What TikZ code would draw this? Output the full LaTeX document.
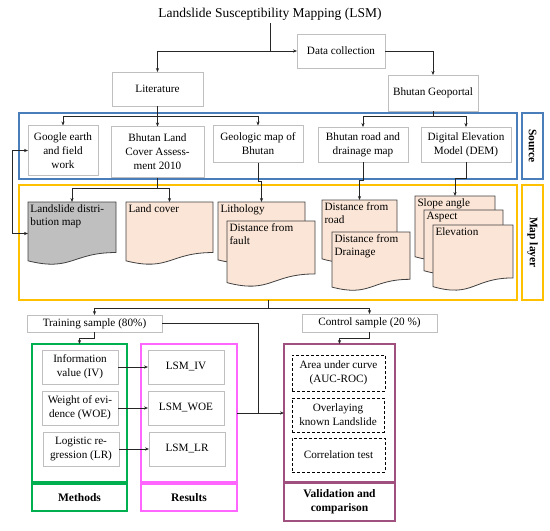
\documentclass[tikz,border=0pt]{standalone}
\usepackage{fontspec}
\setmainfont{Liberation Serif}
\usetikzlibrary{arrows.meta,calc}
\definecolor{blueC}{HTML}{4A7EBB}
\definecolor{yelC}{HTML}{FFC000}
\definecolor{greenC}{HTML}{00B050}
\definecolor{magC}{HTML}{FF66FF}
\definecolor{purC}{HTML}{A0507F}
\definecolor{peach}{HTML}{FBE5D6}
\definecolor{docgray}{HTML}{BFBFBF}
\definecolor{boxgray}{HTML}{BFBFBF}
\definecolor{lineC}{HTML}{262626}
\tikzset{
 base/.style={font=\fontsize{11.2}{14}\selectfont, inner sep=0pt, outer sep=0pt, align=center},
 gbox/.style={base, draw=boxgray, line width=0.8pt, fill=white},
 sz/.style 2 args={minimum width=#1pt, minimum height=#2pt},
 cframe/.style={draw=#1, line width=1.5pt, inner sep=0pt, outer sep=0pt},
 dbox/.style={base, draw=black, dash pattern=on 3pt off 2pt, line width=0.8pt},
 conn/.style={draw=lineC, line width=0.8pt},
 arr/.style={conn, -{Stealth[length=4pt,width=3.2pt]}},
 biarr/.style={conn, {Stealth[length=4pt,width=3.2pt]}-{Stealth[length=4pt,width=3.2pt]}},
 docframe/.style={inner sep=0pt, outer sep=0pt},
 docline/.style={draw=black!75, line width=0.8pt},
 doctext/.style={base, font=\fontsize{11.2}{13.5}\selectfont, align=left, inner sep=2.5pt},
 lbl/.style={base, font=\fontsize{11.5}{14}\selectfont\bfseries},
}
\newcommand\docu[7]{%
 \node[docframe, sz={#4}{#5}, anchor=north west] (#1) at (#2,#3) {};
 \draw[docline, fill=#6] (#1.north west) -- (#1.north east) -- ($(#1.north east)!0.802!(#1.south east)$) .. controls ($(#1.north)!0.802!(#1.south)$) and ($(#1.north)!1.107!(#1.south)$) .. ($(#1.north west)!0.934!(#1.south west)$) -- cycle;
 \node[doctext, anchor=north west] (#1t) at (#1.north west) {#7};
}
\begin{document}
\begin{tikzpicture}[x=1pt,y=-1pt]
\useasboundingbox (0,0) rectangle (550,531);
% title and top
\node[base, font=\fontsize{13.5}{16}\selectfont, inner sep=3pt] (title) at (270,14) {Landslide Susceptibility Mapping (LSM)};
\node[gbox, sz={88}{34}] (data) at (341,51) {Data collection};
\node[gbox, sz={91}{34}] (lit) at (157.5,89) {Literature};
\node[gbox, sz={90}{36}] (geo) at (433,93) {Bhutan Geoportal};
% frames
\node[cframe=blueC, sz={498}{66}] (srcbox) at (268,146) {};
\node[cframe=blueC, lbl, rotate=-90, sz={66}{21}] (srclbl) at (532.5,146) {Source};
\node[cframe=yelC, sz={498}{115}] (mapbox) at (268,242.5) {};
\node[cframe=yelC, lbl, rotate=-90, sz={115}{21}] (maplbl) at (532.5,242.5) {Map layer};
% source nodes
\node[gbox, sz={70}{50}] (google) at (63,150.5) {Google earth\\and field\\work};
\node[gbox, sz={93}{51}] (lcsrc) at (157.5,152) {Bhutan Land\\Cover Assess-\\ment 2010};
\node[gbox, sz={90}{37}] (geomap) at (258,144) {Geologic map of\\Bhutan};
\node[gbox, sz={90}{35}] (road) at (363,144.5) {Bhutan road and\\drainage map};
\node[gbox, sz={90}{35}] (dem) at (466,144.5) {Digital Elevation\\Model (DEM)};
% map layer documents
\docu{lsm}{28}{202}{88}{63}{docgray}{Landslide distri-\\bution map}
\docu{lcdoc}{126}{202}{87}{63}{peach}{Land cover}
\docu{litho}{218}{202}{87}{62}{peach}{Lithology}
\docu{fault}{227}{221}{88}{66}{peach}{Distance from\\fault}
\docu{roaddoc}{322}{200}{75}{63}{peach}{Distance from\\road}
\docu{drain}{332}{232}{78}{59}{peach}{Distance from\\Drainage}
\docu{slope}{415}{196}{80}{65}{peach}{Slope angle}
\docu{aspect}{424}{210}{79}{65}{peach}{Aspect}
\docu{elev}{433}{225}{80}{66}{peach}{Elevation}
% samples
\node[gbox, sz={135}{17}] (train) at (94.5,323.5) {Training sample (80\%)};
\node[gbox, sz={135}{18}] (control) at (369.5,323) {Control sample (20 \%)};
% method / result / validation frames
\node[cframe=greenC, sz={95}{138}] (methods) at (79.5,413) {};
\node[cframe=greenC, lbl, sz={95}{27}] (methlbl) at (79.5,497.5) {Methods};
\node[cframe=magC, sz={96}{138}] (results) at (189,413) {};
\node[cframe=magC, lbl, sz={96}{27}] (reslbl) at (189,497.5) {Results};
\node[cframe=purC, sz={111}{138}] (valid) at (339.5,413) {};
\node[cframe=purC, lbl, sz={111}{38}] (vallbl) at (339.5,502) {Validation and\\comparison};
\node[gbox, sz={76}{34}] (iv) at (80,367) {Information\\value (IV)};
\node[gbox, sz={76}{34}] (woe) at (80,408) {Weight of evi-\\dence (WOE)};
\node[gbox, sz={76}{34}] (lr) at (81,449) {Logistic re-\\gression (LR)};
\node[gbox, sz={76}{34}] (lsmiv) at (186,367) {LSM\_IV};
\node[gbox, sz={76}{34}] (lsmwoe) at (186,408) {LSM\_WOE};
\node[gbox, sz={76}{34}] (lsmlr) at (187,449) {LSM\_LR};
\node[dbox, sz={93}{36}] (auc) at (338.5,373) {Area under curve\\(AUC-ROC)};
\node[dbox, sz={92}{34}] (overlay) at (338,415) {Overlaying\\known Landslide};
\node[dbox, sz={93}{34}] (corr) at (338.5,455) {Correlation test};
% connectors
\coordinate (j1) at (title.south |- data.west);
\draw[conn] (title.south) -- (j1);
\draw[arr] (j1) -- (data.west);
\draw[arr] (j1) -| (lit.north);
\draw[arr] (data.east) -| (geo.north);
\coordinate (j2) at (157.5,116);
\draw[conn] (lit.south) -- (j2);
\draw[arr] (j2) -| (google.north);
\draw[arr] (j2) -| (geomap.north);
\draw[arr] (j2) -- (lcsrc.north);
\coordinate (j3) at (geo.south |- j2);
\draw[conn] (geo.south) -- (j3);
\draw[arr] (j3) -| (road.north);
\draw[arr] (j3) -| (dem.north);
\draw[conn] (lcsrc.south) -- ++(0,11) coordinate (j4);
\draw[arr] (j4) -| (lsm.north);
\draw[arr] (j4) -| (lcdoc.north);
\draw[arr] (geomap.south) -- ++(0,19) -| (litho.north);
\draw[arr] (road.south) -- ++(0,18) -| (roaddoc.north);
\draw[arr] (dem.south) -- ++(0,16) -| (slope.north);
\draw[biarr] (google.west) -- ++(-16,0) |- (lsm.west);
\draw[conn] (mapbox.south) -- ++(0,8) coordinate (j5);
\draw[arr] (j5) -| (train.north);
\draw[arr] (j5) -| (control.north);
\draw[arr] (train.south) -- ++(0,6) -| (methods.north);
\draw[arr] (control.south) -- ++(0,6) -| (valid.north);
\coordinate (j6) at (258,413);
\draw[conn] (train.east) -| (j6);
\draw[arr] (results.east) -- (valid.west);
\draw[arr] (iv) -- (lsmiv);
\draw[arr] (woe) -- (lsmwoe);
\draw[arr] (lr) -- (lsmlr);
\end{tikzpicture}
\end{document}
